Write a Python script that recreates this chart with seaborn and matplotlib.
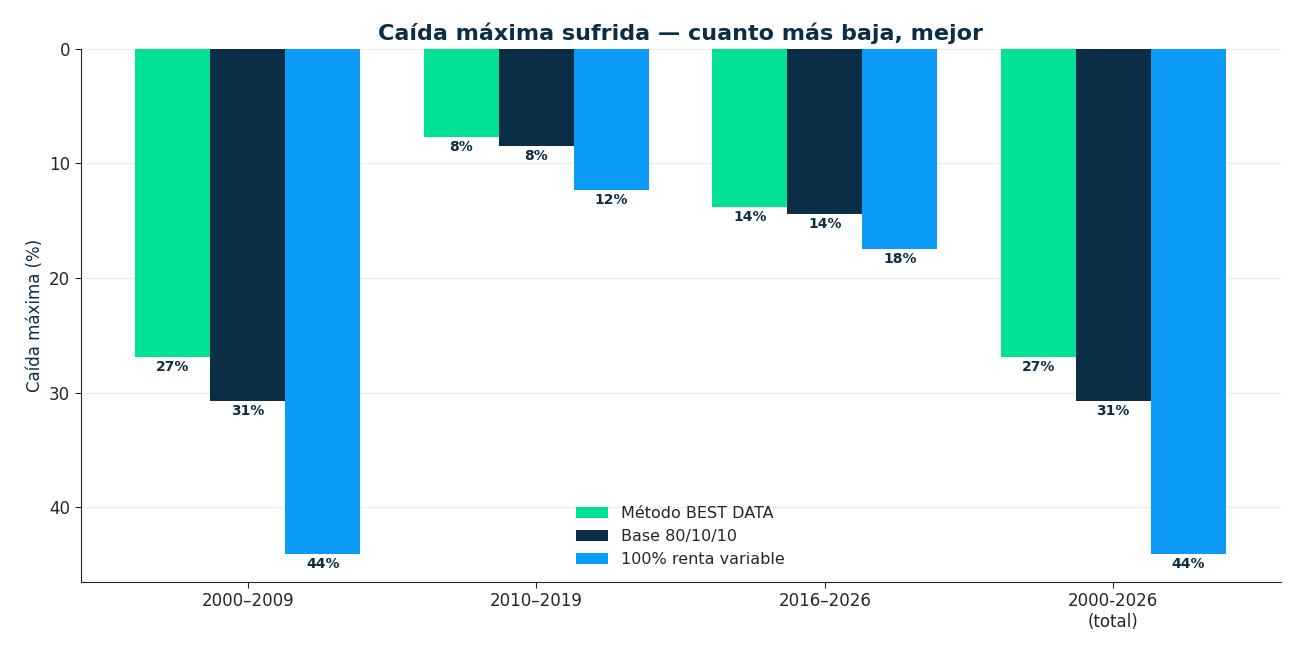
import matplotlib
matplotlib.use("Agg")
import matplotlib.pyplot as plt
import seaborn as sns
import pandas as pd

periods = ["2000–2009", "2010–2019", "2016–2026", "2000-2026\n(total)"]
series = ["Método BEST DATA", "Base 80/10/10", "100% renta variable"]
best = [26.9, 7.7, 13.8, 26.9]
base = [30.7, 8.5, 14.4, 30.7]
equity = [44.1, 12.35, 17.5, 44.1]
colors = ["#00E396", "#0A2E45", "#0D9BF8"]

rows = []
for s, vals in zip(series, [best, base, equity]):
    for p, v in zip(periods, vals):
        rows.append({"Periodo": p, "Serie": s, "Valor": v})
df = pd.DataFrame(rows)

sns.set_style("white")
fig, ax = plt.subplots(figsize=(13, 6.5), dpi=100)
sns.barplot(data=df, x="Periodo", y="Valor", hue="Serie", palette=colors,
            width=0.78, ax=ax, saturation=1, edgecolor="none")
ax.set_ylim(46.5, 0)
ax.set_xlim(-0.58, 3.58)
for cont in ax.containers:
    for bar in cont:
        h = bar.get_height()
        ax.text(bar.get_x() + bar.get_width() / 2, h + 0.25, f"{h:.0f}%",
                ha="center", va="top", fontsize=10, fontweight="bold", color="#0A2E45")
ax.set_title("Caída máxima sufrida — cuanto más baja, mejor", fontsize=16,
             fontweight="bold", color="#0A2E45")
ax.set_ylabel("Caída máxima (%)", fontsize=12, color="#0A2E45")
ax.set_xlabel("")
ax.tick_params(axis="both", labelsize=12, length=4, left=True, bottom=True)
ax.set_yticks([0, 10, 20, 30, 40])
ax.grid(axis="y", color="#eeeeee", linewidth=1)
ax.set_axisbelow(True)
sns.despine(ax=ax)
ax.legend(loc="lower center", frameon=False, fontsize=11.5)
plt.subplots_adjust(left=0.062, right=0.985, top=0.925, bottom=0.105)
fig.savefig("out.png")
